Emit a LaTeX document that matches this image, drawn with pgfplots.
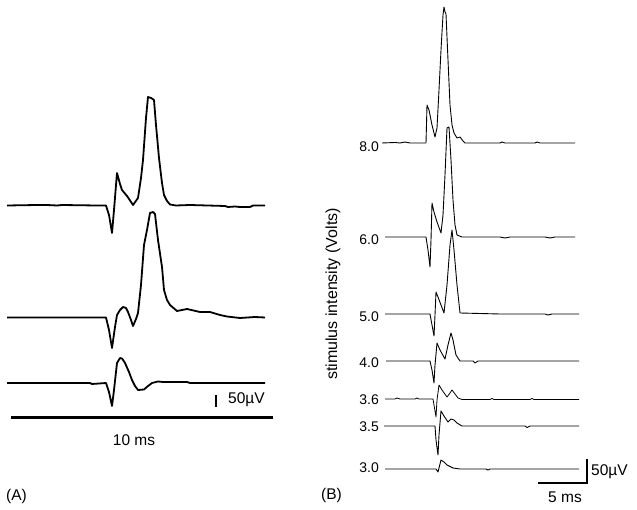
\documentclass[border=0pt]{standalone}
\usepackage{fontspec}
\setmainfont{Liberation Sans}
\usepackage{pgfplots}
\pgfplotsset{compat=1.18}
\tikzset{lbl/.style={anchor=east, inner sep=0pt, font=\fontsize{14}{16}\selectfont},
         txt/.style={inner sep=0pt, font=\fontsize{15.5}{18}\selectfont}}
\begin{document}
\begin{tikzpicture}
\begin{axis}[
  width=637pt, height=510pt, scale only axis,
  xmin=0, xmax=637, ymin=0, ymax=510, y dir=reverse,
  axis lines=none, clip=false,
  every axis plot/.append style={black, line join=round, mark=none},
]
\path (axis cs:0,0) rectangle (axis cs:637,510);
% ---------- Panel A ----------
\addplot[line width=1.8pt] coordinates {
(7,205.5) (37,205) (47,205) (57,205.5) (62,205) (97,205.5) (106,205.5) (109,215) (112,233) (114,210) (117,173) (120,184) (122,190) (127,196) (133,205) (138,198) (141,178) (143,160) (146,118) (148,97) (151,98) (154,100) (156,125) (159,158) (162,183) (164,195) (167,201) (170,204.5) (176,205.5) (190,205) (225,206) (228,207) (235,206.5) (240,207) (250,207) (253,205.5) (265,205.5)};
\addplot[line width=1.8pt] coordinates {
(7,317.5) (106,317.5) (109,330) (112,348) (115,327) (117,315) (120,310) (123,307) (126,308) (128,312) (131,320) (133,326) (136,319) (138,313) (141,285) (144,245) (147,230) (150,213) (153,212) (155,214) (158,240) (162,267) (164,290) (167,300) (170,305) (177,311) (187,309) (200,312) (210,312) (220,315) (227,316.5) (240,318) (255,317) (265,317.5)};
\addplot[line width=1.8pt] coordinates {
(7,383) (90,383) (92,384) (106,383) (109,392) (112,406) (114,390) (117,363) (120,358) (122,358.5) (125,363) (129,372) (132,380) (135,386) (138,390) (144,389.5) (148,386) (152,383) (158,381.5) (163,382) (187,382) (190,383) (265,383)};
\draw[line width=2.5pt] (axis cs:216,395) -- (axis cs:216,407);
\node[txt, anchor=west] at (axis cs:228,400) {50µV};
\draw[line width=3pt] (axis cs:11,417) -- (axis cs:273,417);
\node[txt] at (axis cs:134,440) {10 ms};
\node[txt, anchor=west] at (axis cs:6,496) {(A)};
% ---------- Panel B ----------
\addplot[line width=0.9pt] coordinates {
(382,143) (395,142.5) (400,143) (405,142) (410,143) (426,143) (427,105) (429,110) (432,125) (435,137) (437,128) (439,90) (441,50) (443,15) (444,7) (445,12) (446,14) (448,60) (450,105) (452,125) (454,133) (457,138) (460,137) (463,141) (465,143) (500,143) (502,142) (505,143) (535,143) (537,142) (540,143) (575,143)};
\addplot[line width=0.9pt] coordinates {
(385,237) (426,237) (428,250) (430,267) (431,240) (432,203) (434,212) (437,222) (441,233) (443,215) (445,175) (447,128) (449,127) (451,160) (453,200) (455,225) (457,235) (462,237) (500,237) (505,238) (510,237) (545,237) (550,238) (555,237) (575,237)};
\addplot[line width=0.9pt] coordinates {
(385,314) (430,314) (432,325) (434,336) (435,315) (436,292) (438,297) (441,305) (444,313) (447,285) (450,245) (452,230) (454,250) (457,285) (460,313) (500,314) (545,314) (548,315) (552,314) (579,314)};
\addplot[line width=0.9pt] coordinates {
(386,361) (430,361) (432,370) (434,383) (435,365) (437,343) (440,350) (445,359) (448,345) (451,333) (453,340) (456,355) (460,361) (473,361) (475,363) (478,361) (579,361)};
\addplot[line width=0.8pt] coordinates {
(385,399) (395,399) (397,398) (400,399) (415,399) (417,398) (419,399) (433,399) (434.5,408) (436,417) (437,400) (439,385) (442,390) (447,397) (450,393) (452,390) (455,394) (458,398) (462,399.5) (490,399.5) (492,398.5) (494,399.5) (530,399.5) (532,398.5) (534,399.5) (579,399.5)};
\addplot[line width=0.9pt] coordinates {
(384,426) (435,426) (436,440) (438,455) (439,435) (441,411) (444,416) (448,422) (451,419) (454,420) (457,423) (462,426) (525,426) (527,427.5) (530,426) (579,426)};
\addplot[line width=0.9pt] coordinates {
(385,469) (436,469) (438,472) (439,468) (441,460) (444,462) (447,465) (453,468) (460,469) (486,469) (488,470) (490,469) (579,469)};
\draw[line width=1.3pt] (axis cs:538,483) -- (axis cs:587,483) -- (axis cs:587,459);
\node[txt, anchor=west] at (axis cs:591,472) {50µV};
\node[txt] at (axis cs:565,497) {5 ms};
\node[txt, anchor=west] at (axis cs:321,495) {(B)};
\node[lbl] at (axis cs:379,147) {8.0};
\node[lbl] at (axis cs:379,240) {6.0};
\node[lbl] at (axis cs:379,317) {5.0};
\node[lbl] at (axis cs:379,363) {4.0};
\node[lbl] at (axis cs:379,400) {3.6};
\node[lbl] at (axis cs:379,427) {3.5};
\node[lbl] at (axis cs:379,468) {3.0};
\node[inner sep=0pt, font=\fontsize{16}{18}\selectfont, rotate=90] at (axis cs:333,294) {stimulus intensity (Volts)};
\end{axis}
\end{tikzpicture}
\end{document}
